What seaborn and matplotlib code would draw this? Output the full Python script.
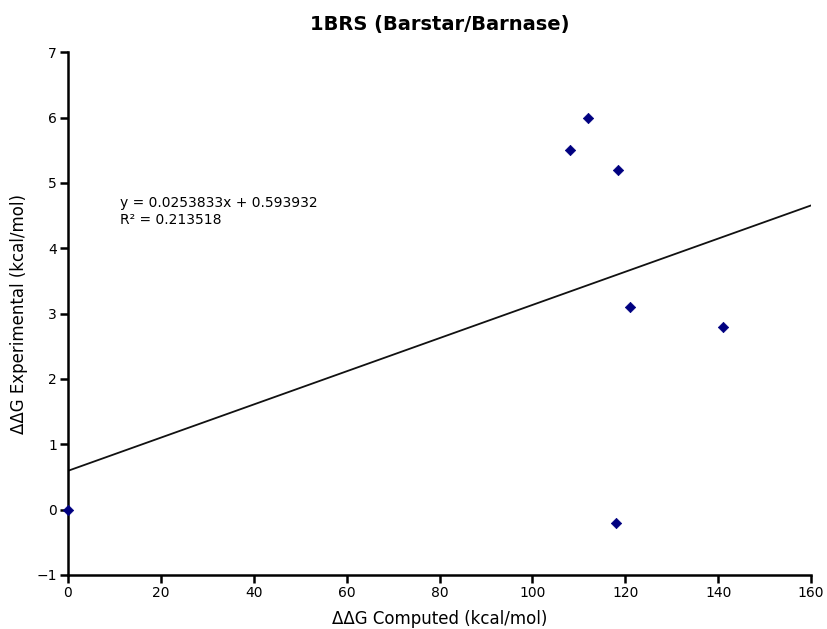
import matplotlib
matplotlib.use("Agg")
import matplotlib.pyplot as plt
import seaborn as sns
import numpy as np
import pandas as pd

# Data
computed = [0, 108, 112, 118.4, 121, 141, 118]
experimental = [0, 5.5, 6.0, 5.2, 3.1, 2.8, -0.2]
slope = 0.0253833
intercept = 0.593932
r2 = 0.213518
fit_x = [0, 160]
x_ticks = [0, 20, 40, 60, 80, 100, 120, 140, 160]
y_ticks = [-1, 0, 1, 2, 3, 4, 5, 6, 7]

sns.set_style("white")
plt.rcParams['font.family'] = ['DejaVu Sans']
plt.rcParams['text.color'] = 'black'
plt.rcParams['axes.labelcolor'] = 'black'

fig = plt.figure(figsize=(8.27, 6.29), dpi=100)
ax = fig.add_axes([0.0822, 0.0859, 0.8985, 0.8311])

df = pd.DataFrame({"x": computed, "y": experimental})
fit_df = pd.DataFrame({"x": fit_x, "y": [slope * v + intercept for v in fit_x]})

sns.lineplot(data=fit_df, x="x", y="y", ax=ax, color="#111111", linewidth=1.3)
sns.scatterplot(data=df, x="x", y="y", ax=ax, marker="D", color="#000080",
                s=28, edgecolor="#000080", linewidth=0.5, zorder=5, clip_on=False)

ax.set_xlim(0, 160)
ax.set_ylim(-1, 7)
ax.set_xticks(x_ticks)
ax.set_yticks(y_ticks)
ax.set_xticklabels([str(t) for t in x_ticks])
ax.set_yticklabels([("\u2212" + str(-t)) if t < 0 else str(t) for t in y_ticks])

for side in ["top", "right"]:
    ax.spines[side].set_visible(False)
for side in ["left", "bottom"]:
    ax.spines[side].set_linewidth(1.8)
    ax.spines[side].set_color("black")
ax.tick_params(axis="both", which="major", bottom=True, left=True, direction="out",
               length=6, width=1.8, labelsize=10, color="black", labelcolor="black", pad=2)

ax.set_xlabel("\u0394\u0394G Computed (kcal/mol)", fontsize=12, labelpad=7.5, color="black")
ax.set_ylabel("\u0394\u0394G Experimental (kcal/mol)", fontsize=12, labelpad=6, color="black")
ax.set_title("1BRS (Barstar/Barnase)", fontsize=14, fontweight="bold", pad=16, color="black")

ax.text(11.2, 4.33, f"y = {slope}x + {intercept}\nR\u00b2 = {r2}", fontsize=10,
        va="bottom", ha="left", linespacing=1.2, color="black")

fig.savefig("out.png", dpi=100)
